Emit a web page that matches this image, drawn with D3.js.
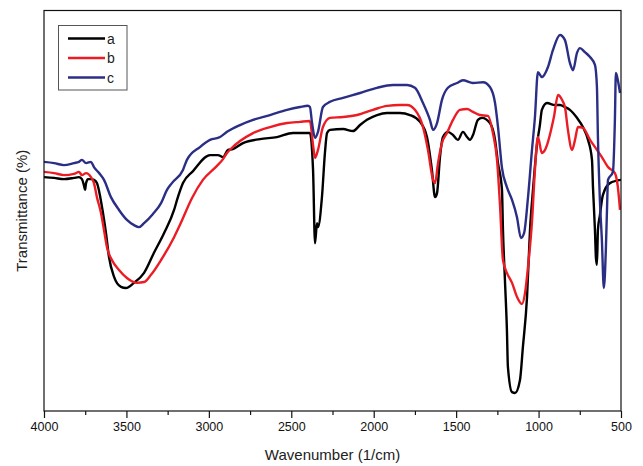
<!DOCTYPE html>
<html>
<head>
<meta charset="utf-8">
<script src="https://cdn.jsdelivr.net/npm/d3@7"></script>
<style>
  html, body { margin: 0; padding: 0; background: #fff; }
  svg { display: block; font-family: "Liberation Sans", Arial, sans-serif; }
</style>
</head>
<body>
<svg id="chart" width="643" height="466"></svg>
<script>
// ---- data: [wavenumber (1/cm), transmittance (arbitrary %)] ----
const seriesNames = ["a", "b", "c"];
const seriesColors = ["#000000", "#ec1c24", "#2b2e85"];
const xTicks = [4000, 3500, 3000, 2500, 2000, 1500, 1000, 500];

const seriesA = [
  [4000,58.4],[3939,58.2],[3879,57.9],[3818,58.2],[3788,58.4],[3770,57.9],[3757,56.2],[3751,55.2],
  [3745,56.9],[3733,57.9],[3715,57.9],[3697,57.7],[3679,56.9],[3648,50.9],[3624,44.4],[3606,38.5],
  [3575,33.5],[3533,31.0],[3503,30.7],[3454,32.0],[3393,34.5],[3333,39.5],[3272,44.4],[3211,50.2],
  [3193,52.7],[3157,56.9],[3096,59.9],[2993,63.9],[2945,63.9],[2914,63.4],[2884,65.2],[2854,65.4],
  [2793,66.9],[2690,67.9],[2587,68.4],[2490,69.4],[2399,69.4],[2387,69.4],[2368,60.2],[2356,41.9],
  [2344,46.9],[2338,45.9],[2314,53.4],[2296,64.4],[2283,69.4],[2265,70.2],[2186,70.4],[2126,69.9],
  [2083,71.4],[2041,72.7],[1980,73.9],[1919,74.4],[1841,74.4],[1780,73.9],[1719,72.2],[1677,68.4],
  [1647,60.2],[1628,53.4],[1616,54.4],[1598,63.4],[1580,68.4],[1550,69.7],[1519,68.9],[1489,67.7],
  [1459,69.7],[1434,68.4],[1416,67.7],[1398,68.9],[1368,72.7],[1343,73.2],[1295,71.9],[1264,67.7],
  [1246,61.9],[1222,55.2],[1216,45.2],[1204,32.7],[1192,20.2],[1186,11.0],[1161,4.7],[1143,4.5],
  [1113,7.7],[1095,16.0],[1070,28.5],[1052,45.2],[1034,55.2],[1010,66.4],[992,71.4],[980,75.2],
  [949,76.9],[901,76.4],[870,76.4],[840,75.9],[810,75.2],[767,73.2],[731,70.9],[700,67.7],
  [676,62.7],[670,55.9],[658,45.2],[652,38.2],[646,36.5],[640,45.2],[628,48.9],[610,53.9],
  [567,56.9],[500,57.7]
];

const seriesB = [
  [4000,59.7],[3939,59.4],[3879,58.9],[3818,59.2],[3788,59.7],[3770,58.9],[3745,59.4],[3715,58.4],
  [3697,56.9],[3679,53.4],[3654,49.4],[3636,45.2],[3618,40.9],[3588,37.7],[3545,35.2],[3497,33.2],
  [3436,32.0],[3393,32.2],[3351,34.0],[3290,37.7],[3211,43.4],[3175,46.5],[3102,53.2],[3036,57.7],
  [2951,61.2],[2914,62.9],[2890,64.4],[2860,65.7],[2811,67.4],[2732,69.4],[2629,70.9],[2526,71.9],
  [2447,72.2],[2387,72.4],[2368,66.4],[2356,63.2],[2338,65.2],[2308,70.9],[2265,73.2],[2186,73.4],
  [2101,73.9],[2004,75.2],[1919,76.2],[1841,76.4],[1798,76.4],[1750,75.2],[1701,70.9],[1671,65.2],
  [1640,57.7],[1628,56.9],[1610,61.9],[1586,66.9],[1556,69.4],[1519,72.7],[1477,75.2],[1434,75.4],
  [1398,74.7],[1356,73.9],[1307,73.7],[1277,69.4],[1252,62.7],[1234,51.4],[1216,37.7],[1192,34.5],
  [1161,32.0],[1131,28.5],[1101,26.7],[1082,29.5],[1064,36.0],[1040,47.2],[1022,60.2],[1004,68.4],
  [980,64.4],[961,65.2],[907,73.4],[882,78.9],[858,77.7],[840,75.9],[822,70.2],[797,65.2],
  [779,67.7],[761,70.9],[731,70.7],[688,67.7],[646,65.2],[616,63.4],[579,60.9],[537,59.4],
  [519,55.9],[506,50.2]
];

const seriesC = [
  [4000,62.2],[3939,61.9],[3879,61.4],[3818,61.9],[3788,62.2],[3770,62.7],[3745,61.9],[3715,62.2],
  [3697,60.9],[3666,59.4],[3636,57.7],[3594,53.4],[3545,50.2],[3497,47.7],[3454,46.4],[3424,45.9],
  [3393,46.9],[3339,49.2],[3290,51.9],[3254,55.2],[3224,56.9],[3157,60.2],[3133,62.7],[3054,65.9],
  [2993,67.7],[2932,68.4],[2890,69.7],[2811,71.4],[2732,72.7],[2629,73.9],[2526,75.2],[2447,75.9],
  [2399,76.2],[2387,75.9],[2374,71.9],[2356,68.2],[2338,69.7],[2308,75.9],[2265,77.2],[2186,78.2],
  [2083,79.4],[1980,80.7],[1883,81.4],[1798,81.4],[1750,80.7],[1701,76.9],[1659,72.7],[1640,70.2],
  [1616,71.9],[1586,77.7],[1550,80.7],[1495,81.9],[1459,82.6],[1398,81.9],[1337,82.1],[1295,80.9],
  [1264,76.9],[1246,70.9],[1222,60.7],[1192,55.9],[1161,52.7],[1131,48.4],[1107,43.2],[1088,44.4],
  [1064,53.4],[1040,65.2],[1022,73.4],[1004,84.6],[980,83.4],[943,85.9],[913,90.1],[870,93.9],
  [840,92.6],[810,86.9],[791,85.1],[767,89.4],[749,90.6],[719,89.6],[688,88.4],[658,86.4],
  [646,80.9],[640,68.4],[628,52.7],[616,42.7],[604,30.7],[592,40.2],[585,50.2],[579,57.7],
  [549,59.7],[537,72.7],[531,84.4],[519,82.6],[506,79.4]
];

const allSeries = [seriesA, seriesB, seriesC];

// ---- layout ----
const svg = d3.select("#chart");
const L = 44, R = 621, T = 10.5, B = 411;

const x = d3.scaleLinear().domain([4000, 500]).range([L, R]);
const y = d3.scaleLinear().domain([0, 100]).range([B, T]);

svg.append("defs").append("clipPath").attr("id", "plotclip")
  .append("rect").attr("x", L).attr("y", T).attr("width", R - L).attr("height", B - T);

// curves
const line = d3.line().x(d => x(d[0])).y(d => y(d[1])).curve(d3.curveMonotoneX);
const g = svg.append("g").attr("clip-path", "url(#plotclip)");
allSeries.forEach((s, i) => {
  g.append("path")
    .datum(s)
    .attr("d", line)
    .attr("fill", "none")
    .attr("stroke", seriesColors[i])
    .attr("stroke-width", 2.4)
    .attr("stroke-linejoin", "round");
});

// frame
svg.append("rect")
  .attr("x", L).attr("y", T).attr("width", R - L).attr("height", B - T)
  .attr("fill", "none").attr("stroke", "#111").attr("stroke-width", 1.2);

// x axis major ticks
const xAxis = d3.axisBottom(x).tickValues(xTicks).tickSize(7).tickPadding(4)
  .tickFormat(d3.format("d"));
const ax = svg.append("g").attr("transform", `translate(0,${B})`).call(xAxis);
ax.select(".domain").remove();
ax.selectAll(".tick line").attr("stroke", "#111").attr("stroke-width", 1.2);
ax.selectAll(".tick text").attr("font-size", 12.5).attr("fill", "#111")
  .attr("font-family", "Liberation Sans, Arial, sans-serif");

// minor ticks
const minorTicks = d3.range(3750, 500, -500);
const axm = svg.append("g").attr("transform", `translate(0,${B})`)
  .call(d3.axisBottom(x).tickValues(minorTicks).tickSize(4).tickFormat(""));
axm.select(".domain").remove();
axm.selectAll(".tick line").attr("stroke", "#111").attr("stroke-width", 1.2);

// axis titles
svg.append("text")
  .attr("x", (L + R) / 2).attr("y", 460)
  .attr("text-anchor", "middle").attr("font-size", 15).attr("fill", "#222")
  .text("Wavenumber (1/cm)");

svg.append("text")
  .attr("transform", `translate(27,${(T + B) / 2}) rotate(-90)`)
  .attr("text-anchor", "middle").attr("font-size", 15).attr("fill", "#222")
  .text("Transmittance (%)");

// legend
const lg = svg.append("g");
lg.append("rect").attr("x", 58.5).attr("y", 25.5).attr("width", 68.5).attr("height", 64.5)
  .attr("fill", "#fff").attr("stroke", "#555").attr("stroke-width", 1);
seriesNames.forEach((n, i) => {
  const yy = 38.5 + i * 19.5;
  lg.append("line").attr("x1", 68).attr("x2", 105).attr("y1", yy).attr("y2", yy)
    .attr("stroke", seriesColors[i]).attr("stroke-width", 2.6);
  lg.append("text").attr("x", 107).attr("y", yy + 5).attr("font-size", 14).attr("fill", "#222")
    .text(n);
});
</script>
</body>
</html>
